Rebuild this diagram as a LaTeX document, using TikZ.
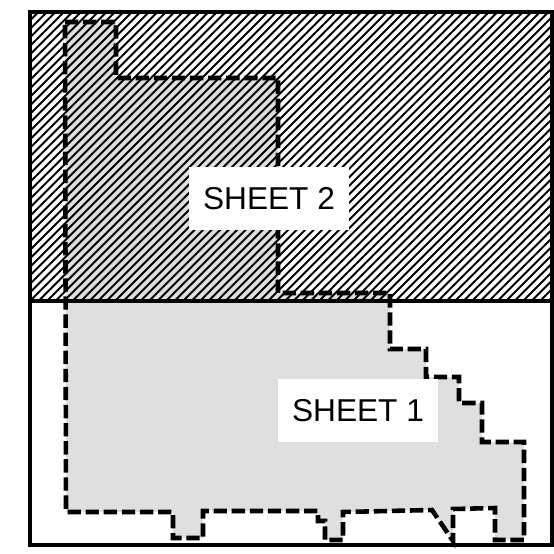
\documentclass[tikz,border=0pt]{standalone}
\usepackage{fontspec}
\setmainfont{Liberation Sans}
\definecolor{areagray}{RGB}{223,223,223}

\tikzset{
  sheetframe/.style={draw, line width=1.9pt},
  sheethatch/.style={line width=1.1pt},
  areaedge/.style={draw=black, line width=2.6pt, dash pattern=on 7.6pt off 2.7pt, line join=miter},
  arealfill/.style={fill=areagray},
  sheetlab/.style={fill=white, inner sep=0pt, minimum width=3.2cm, minimum height=1.26cm, font=\fontsize{18}{21}\selectfont}
}

\begin{document}
\begin{tikzpicture}[x=0.02cm,y=-0.02cm]
        \useasboundingbox (0,0) rectangle (554,554);
        \fill[white] (0,0) rectangle (554,554);

        % area covered by the two sheets
        \fill[arealfill] (65,22) -- (116,22) -- (116,78) -- (278,78) -- (278,293) -- (390,293)
          -- (390,349) -- (426,349) -- (426,377) -- (459,377) -- (459,403) -- (482,403)
          -- (482,442) -- (524,442) -- (524,540) -- (495,540) -- (495,508) -- (453,509)
          -- (453,541) -- (432,510) -- (343,512) -- (343,540) -- (325,540) -- (325,521)
          -- (318,521) -- (318,511) -- (203,511) -- (203,538) -- (173,538) -- (173,512)
          -- (66,512) -- cycle;

        % hatching of sheet 2
        \begin{scope}
          \clip (30,12) rectangle (552,301);
          \foreach \c in {42,50.5,...,860}
            \draw[sheethatch] (\c-301,301) -- (\c-12,12);
        \end{scope}

        \draw[areaedge] (65,22) -- (116,22) -- (116,78) -- (278,78) -- (278,293) -- (390,293)
          -- (390,349) -- (426,349) -- (426,377) -- (459,377) -- (459,403) -- (482,403)
          -- (482,442) -- (524,442) -- (524,540) -- (495,540) -- (495,508) -- (453,509)
          -- (453,541) -- (432,510) -- (343,512) -- (343,540) -- (325,540) -- (325,521)
          -- (318,521) -- (318,511) -- (203,511) -- (203,538) -- (173,538) -- (173,512)
          -- (66,512) -- cycle;

        \draw[sheetframe] (30,12) rectangle (552,545);
        \draw[sheetframe] (30,301) -- (552,301);

        \node[sheetlab] (sheet2) at (269,198.5) {SHEET 2};
        \node[sheetlab] (sheet1) at (358,410.5) {SHEET 1};
\end{tikzpicture}
\end{document}
